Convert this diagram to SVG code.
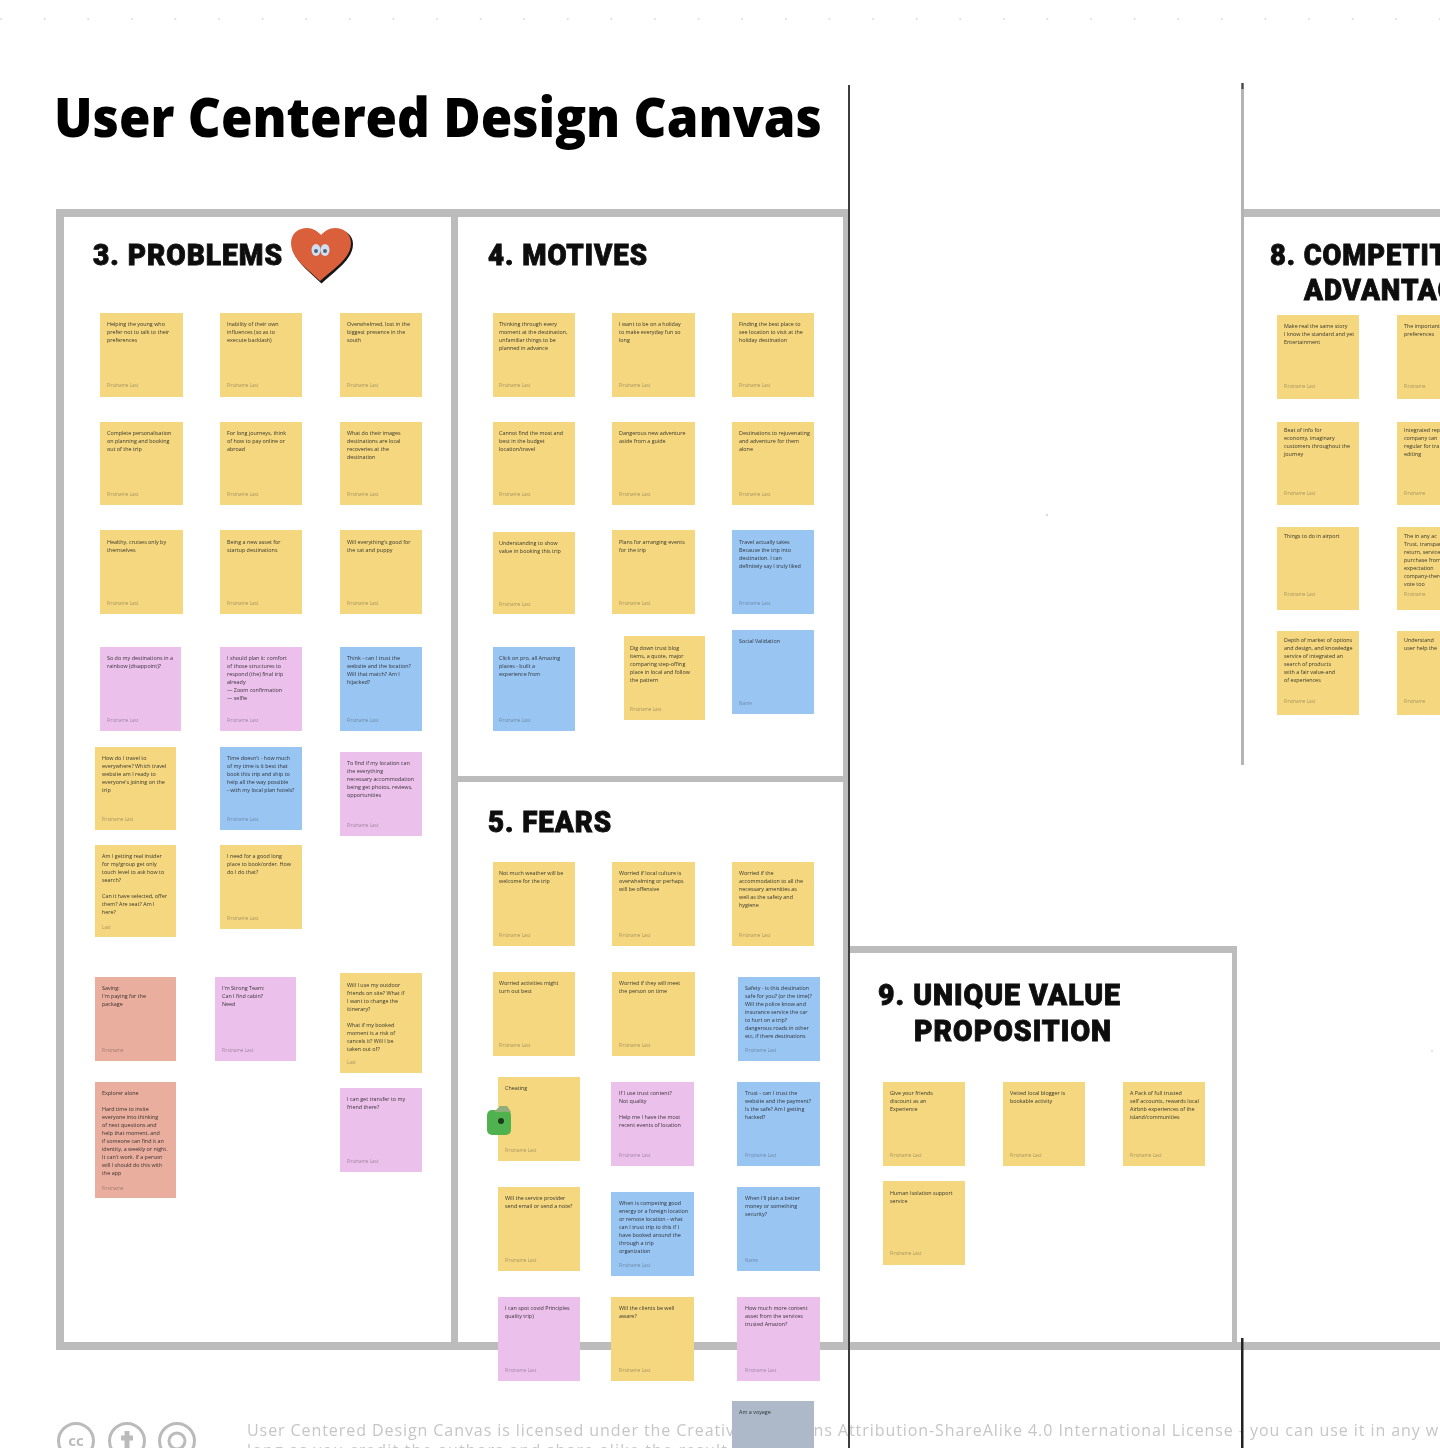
<svg xmlns="http://www.w3.org/2000/svg" width="1440" height="1448" viewBox="0 0 1440 1448">
<style>
text{font-family:"Open Sans","Noto Sans",sans-serif}
.y{fill:#f4d77f}.p{fill:#ebc0eb}.b{fill:#99c5f3}.s{fill:#e9ae9e}.g{fill:#adb9c9}
.t{font-size:5.4px;fill:#1f1f1f;opacity:.9}
.a{font-size:4.6px;fill:#2a2a2a;opacity:.4}
.h{font-family:Roboto,"Liberation Sans",sans-serif;font-weight:900;font-size:29px;fill:#0c0c0c;stroke:#0c0c0c;stroke-width:.9;letter-spacing:1px}
.f{fill:#bcbcbc}
.d{fill:#dcdcdc}
</style>
<defs>
<filter id="soft" filterUnits="userSpaceOnUse" x="0" y="0" width="1440" height="1448"><feGaussianBlur stdDeviation="0.6"/></filter>
</defs>
<rect width="1440" height="1448" fill="#fff"/>
<g filter="url(#soft)">
<g id="dots" class="d">
<circle cx="1" cy="19" r="1"/><circle cx="44.6" cy="19" r="1"/><circle cx="88.2" cy="19" r="1"/><circle cx="131.8" cy="19" r="1"/><circle cx="175.4" cy="19" r="1"/><circle cx="219" cy="19" r="1"/><circle cx="262.6" cy="19" r="1"/><circle cx="306.2" cy="19" r="1"/><circle cx="349.8" cy="19" r="1"/><circle cx="393.4" cy="19" r="1"/><circle cx="437" cy="19" r="1"/><circle cx="480.6" cy="19" r="1"/><circle cx="524.2" cy="19" r="1"/><circle cx="567.8" cy="19" r="1"/><circle cx="611.4" cy="19" r="1"/><circle cx="655" cy="19" r="1"/><circle cx="698.6" cy="19" r="1"/><circle cx="742.2" cy="19" r="1"/><circle cx="785.8" cy="19" r="1"/><circle cx="829.4" cy="19" r="1"/><circle cx="873" cy="19" r="1"/><circle cx="916.6" cy="19" r="1"/><circle cx="960.2" cy="19" r="1"/><circle cx="1003.8" cy="19" r="1"/><circle cx="1047.4" cy="19" r="1"/><circle cx="1091" cy="19" r="1"/><circle cx="1134.6" cy="19" r="1"/><circle cx="1178.2" cy="19" r="1"/><circle cx="1221.8" cy="19" r="1"/><circle cx="1265.4" cy="19" r="1"/><circle cx="1309" cy="19" r="1"/><circle cx="1352.6" cy="19" r="1"/><circle cx="1396.2" cy="19" r="1"/><circle cx="1439.8" cy="19" r="1"/>
<circle cx="1047" cy="515" r="1.2"/><circle cx="1432" cy="1051" r="1"/>
</g>
<text id="title" x="54" y="137" font-size="55" font-weight="800" fill="#000" textLength="768" lengthAdjust="spacingAndGlyphs">User Centered Design Canvas</text>
<g id="frames" class="f">
<rect x="56" y="209" width="792" height="8"/>
<rect x="56" y="209" width="8" height="1141"/>
<rect x="451" y="217" width="7" height="1125"/>
<rect x="843" y="209" width="5" height="1135"/>
<rect x="458" y="776" width="385" height="6"/>
<rect x="56" y="1342" width="1384" height="8"/>
<rect x="850" y="946" width="387" height="7"/>
<rect x="1232" y="946" width="5" height="396"/>
<rect x="1244" y="209" width="196" height="8"/>
</g>
<g id="headings">
<text class="h" x="93" y="265" textLength="190" lengthAdjust="spacingAndGlyphs">3. PROBLEMS</text>
<text class="h" x="488" y="265" textLength="160" lengthAdjust="spacingAndGlyphs">4. MOTIVES</text>
<text class="h" x="488" y="832" textLength="124" lengthAdjust="spacingAndGlyphs">5. FEARS</text>
<text class="h" x="1270" y="265" textLength="222" lengthAdjust="spacingAndGlyphs">8. COMPETITIVE</text>
<text class="h" x="1304" y="300" textLength="170" lengthAdjust="spacingAndGlyphs">ADVANTAGE</text>
<text class="h" x="878" y="1005" textLength="243" lengthAdjust="spacingAndGlyphs">9. UNIQUE VALUE</text>
<text class="h" x="914" y="1041" textLength="198" lengthAdjust="spacingAndGlyphs">PROPOSITION</text>
</g>
<g id="heart">
<path d="M321.5 283.500C310 272 292 260 292 244C292 234 300 229.500 308 229.500C314 229.500 318 232.500 322.500 236.500C326.500 232.500 331 229.500 336.500 229.500C345.500 229.500 353 235 353 244C353 260 334.500 271 321.500 283.500Z" fill="#141414"/>
<path d="M320 281C308 269 291 259 291 243C291 233 299 228 307 228C313 228 317 231 321 235C325 231 329 228 335 228C344 228 351 234 351 243C351 259 333 269 320 281Z" fill="#d9603a"/>
<ellipse cx="316" cy="250" rx="4.500" ry="6" fill="#cfe0f2"/><ellipse cx="325" cy="250" rx="4.500" ry="6" fill="#cfe0f2"/>
<circle cx="316" cy="251" r="2" fill="#51657e"/><circle cx="325" cy="251" r="2" fill="#51657e"/>
</g>
<g id="footer">
<text x="247" y="1436" font-size="16" fill="#c6c6c6" textLength="1210" lengthAdjust="spacing">User Centered Design Canvas is licensed under the Creative Commons Attribution-ShareAlike 4.0 International License - you can use it in any way</text>
<text x="247" y="1456" font-size="16" fill="#c6c6c6" textLength="480">long as you credit the authors and share alike the result</text>
<g id="cc-icons" fill="none" stroke="#bbb" stroke-width="3">
<circle cx="76" cy="1441" r="17.5"/><circle cx="127" cy="1441" r="17.5"/><circle cx="177" cy="1441" r="17.5"/><circle cx="177" cy="1441" r="8"/>
<path d="M127 1431V1448M121 1438H133" stroke-width="5"/>
</g>
<text x="76" y="1446" font-size="15" font-weight="700" fill="#bbb" text-anchor="middle">cc</text>
</g>

<g id="problems">
<g id="p1"><rect class="y" x="100" y="313" width="83" height="84"/><text class="t" x="107" y="326">Helping the young who</text><text class="t" x="107" y="334">prefer not to talk to their</text><text class="t" x="107" y="342">preferences</text><text class="a" x="107" y="387">Firstname Last</text></g>
<g id="p2"><rect class="y" x="220" y="313" width="82" height="84"/><text class="t" x="227" y="326">Inability of their own</text><text class="t" x="227" y="334">influences (so as to</text><text class="t" x="227" y="342">execute backlash)</text><text class="a" x="227" y="387">Firstname Last</text></g>
<g id="p3"><rect class="y" x="340" y="313" width="82" height="84"/><text class="t" x="347" y="326">Overwhelmed, lost in the</text><text class="t" x="347" y="334">biggest presence in the</text><text class="t" x="347" y="342">south</text><text class="a" x="347" y="387">Firstname Last</text></g>
<g id="p4"><rect class="y" x="100" y="422" width="83" height="83"/><text class="t" x="107" y="435">Complete personalisation</text><text class="t" x="107" y="443">on planning and booking</text><text class="t" x="107" y="451">out of the trip</text><text class="a" x="107" y="496">Firstname Last</text></g>
<g id="p5"><rect class="y" x="220" y="422" width="82" height="83"/><text class="t" x="227" y="435">For long journeys, think</text><text class="t" x="227" y="443">of how to pay online or</text><text class="t" x="227" y="451">abroad</text><text class="a" x="227" y="496">Firstname Last</text></g>
<g id="p6"><rect class="y" x="340" y="422" width="82" height="83"/><text class="t" x="347" y="435">What do their images</text><text class="t" x="347" y="443">destinations are local</text><text class="t" x="347" y="451">recoveries at the</text><text class="t" x="347" y="459">destination</text><text class="a" x="347" y="496">Firstname Last</text></g>
<g id="p7"><rect class="y" x="100" y="530" width="83" height="84"/><text class="t" x="107" y="544">Healthy, cruises only by</text><text class="t" x="107" y="552">themselves</text><text class="a" x="107" y="605">Firstname Last</text></g>
<g id="p8"><rect class="y" x="220" y="530" width="82" height="84"/><text class="t" x="227" y="544">Being a new asset for</text><text class="t" x="227" y="552">startup destinations</text><text class="a" x="227" y="605">Firstname Last</text></g>
<g id="p9"><rect class="y" x="340" y="530" width="82" height="84"/><text class="t" x="347" y="544">Will everything's good for</text><text class="t" x="347" y="552">the cat and puppy</text><text class="a" x="347" y="605">Firstname Last</text></g>
<g id="p10"><rect class="p" x="100" y="647" width="81" height="84"/><text class="t" x="107" y="660">So do my destinations in a</text><text class="t" x="107" y="668">rainbow (disappoint)?</text><text class="a" x="107" y="722">Firstname Last</text></g>
<g id="p11"><rect class="p" x="220" y="647" width="82" height="84"/><text class="t" x="227" y="660">I should plan it: comfort</text><text class="t" x="227" y="668">of those structures to</text><text class="t" x="227" y="676">respond (the) final trip</text><text class="t" x="227" y="684">already</text><text class="t" x="227" y="692">  — Zoom confirmation</text><text class="t" x="227" y="700">  — selfie</text><text class="a" x="227" y="722">Firstname Last</text></g>
<g id="p12"><rect class="b" x="340" y="647" width="82" height="84"/><text class="t" x="347" y="660">Think - can I trust the</text><text class="t" x="347" y="668">website and the location?</text><text class="t" x="347" y="676">Will that match? Am I</text><text class="t" x="347" y="684">hijacked?</text><text class="a" x="347" y="722">Firstname Last</text></g>
<g id="p13"><rect class="y" x="95" y="747" width="81" height="83"/><text class="t" x="102" y="760">How do I travel to</text><text class="t" x="102" y="768">everywhere? Which travel</text><text class="t" x="102" y="776">website am I ready to</text><text class="t" x="102" y="784">everyone's joining on the</text><text class="t" x="102" y="792">trip</text><text class="a" x="102" y="821">Firstname Last</text></g>
<g id="p14"><rect class="b" x="220" y="747" width="82" height="83"/><text class="t" x="227" y="760">Time doesn't - how much</text><text class="t" x="227" y="768">of my time is it best that</text><text class="t" x="227" y="776">book this trip and ship to</text><text class="t" x="227" y="784">help all the way possible</text><text class="t" x="227" y="792">- with my local plan hotels?</text><text class="a" x="227" y="821">Firstname Last</text></g>
<g id="p15"><rect class="p" x="340" y="752" width="82" height="84"/><text class="t" x="347" y="765">To find if my location can</text><text class="t" x="347" y="773">the everything</text><text class="t" x="347" y="781">necessary accommodation</text><text class="t" x="347" y="789">being get photos, reviews,</text><text class="t" x="347" y="797">opportunities</text><text class="a" x="347" y="827">Firstname Last</text></g>
<g id="p16"><rect class="y" x="95" y="845" width="81" height="92"/><text class="t" x="102" y="858">Am I getting real insider</text><text class="t" x="102" y="866">for my/group get only</text><text class="t" x="102" y="874">touch level to ask how to</text><text class="t" x="102" y="882">search?</text><text class="t" x="102" y="898">Can it have selected, offer</text><text class="t" x="102" y="906">them? Are seat? Am I</text><text class="t" x="102" y="914">here?</text><text class="a" x="102" y="929">Last</text></g>
<g id="p17"><rect class="y" x="220" y="845" width="82" height="84"/><text class="t" x="227" y="858">I need for a good long</text><text class="t" x="227" y="866">place to book/order. How</text><text class="t" x="227" y="874">do I do that?</text><text class="a" x="227" y="920">Firstname Last</text></g>
<g id="p18"><rect class="s" x="95" y="977" width="81" height="84"/><text class="t" x="102" y="990">Saving:</text><text class="t" x="102" y="998">I'm paying for the</text><text class="t" x="102" y="1006">package</text><text class="a" x="102" y="1052">Firstname</text></g>
<g id="p19"><rect class="p" x="215" y="977" width="81" height="84"/><text class="t" x="222" y="990">I'm Strong Team:</text><text class="t" x="222" y="998">Can I find cabin?</text><text class="t" x="222" y="1006">Need</text><text class="a" x="222" y="1052">Firstname Last</text></g>
<g id="p20"><rect class="y" x="340" y="973" width="82" height="100"/><text class="t" x="347" y="987">Will I use my outdoor</text><text class="t" x="347" y="995">friends on site? What if</text><text class="t" x="347" y="1003">I want to change the</text><text class="t" x="347" y="1011">itinerary?</text><text class="t" x="347" y="1027">What if my booked</text><text class="t" x="347" y="1035">moment is a risk of</text><text class="t" x="347" y="1043">cancels it? Will I be</text><text class="t" x="347" y="1051">taken out of?</text><text class="a" x="347" y="1064">Last</text></g>
<g id="p21"><rect class="s" x="95" y="1082" width="81" height="116"/><text class="t" x="102" y="1095">Explorer alone</text><text class="t" x="102" y="1111">Hard time to invite</text><text class="t" x="102" y="1119">everyone into thinking</text><text class="t" x="102" y="1127">of next questions and</text><text class="t" x="102" y="1135">help that moment, and</text><text class="t" x="102" y="1143">if someone can find it an</text><text class="t" x="102" y="1151">identity, a weekly or night.</text><text class="t" x="102" y="1159">It can't work. If a person</text><text class="t" x="102" y="1167">will I should do this with</text><text class="t" x="102" y="1175">the app</text><text class="a" x="102" y="1190">Firstname</text></g>
<g id="p22"><rect class="p" x="340" y="1088" width="82" height="84"/><text class="t" x="347" y="1101">I can get transfer to my</text><text class="t" x="347" y="1109">friend there?</text><text class="a" x="347" y="1163">Firstname Last</text></g>
</g>

<g id="motives">
<g id="m1"><rect class="y" x="493" y="313" width="82" height="84"/><text class="t" x="499" y="326">Thinking through every</text><text class="t" x="499" y="334">moment at the destination,</text><text class="t" x="499" y="342">unfamiliar things to be</text><text class="t" x="499" y="350">planned in advance</text><text class="a" x="499" y="387">Firstname Last</text></g>
<g id="m2"><rect class="y" x="612" y="313" width="83" height="84"/><text class="t" x="619" y="326">I want to be on a holiday</text><text class="t" x="619" y="334">to make everyday fun so</text><text class="t" x="619" y="342">long</text><text class="a" x="619" y="387">Firstname Last</text></g>
<g id="m3"><rect class="y" x="732" y="313" width="82" height="84"/><text class="t" x="739" y="326">Finding the best place to</text><text class="t" x="739" y="334">see location to visit at the</text><text class="t" x="739" y="342">holiday destination</text><text class="a" x="739" y="387">Firstname Last</text></g>
<g id="m4"><rect class="y" x="493" y="422" width="82" height="83"/><text class="t" x="499" y="435">Cannot find the most and</text><text class="t" x="499" y="443">best in the budget</text><text class="t" x="499" y="451">location/travel</text><text class="a" x="499" y="496">Firstname Last</text></g>
<g id="m5"><rect class="y" x="612" y="422" width="83" height="83"/><text class="t" x="619" y="435">Dangerous new adventure</text><text class="t" x="619" y="443">aside from a guide</text><text class="a" x="619" y="496">Firstname Last</text></g>
<g id="m6"><rect class="y" x="732" y="422" width="82" height="83"/><text class="t" x="739" y="435">Destinations to rejuvenating</text><text class="t" x="739" y="443">and adventure for them</text><text class="t" x="739" y="451">alone</text><text class="a" x="739" y="496">Firstname Last</text></g>
<g id="m7"><rect class="y" x="493" y="532" width="82" height="82"/><text class="t" x="499" y="545">Understanding to show</text><text class="t" x="499" y="553">value in booking this trip</text><text class="a" x="499" y="606">Firstname Last</text></g>
<g id="m8"><rect class="y" x="612" y="530" width="83" height="84"/><text class="t" x="619" y="544">Plans for arranging events</text><text class="t" x="619" y="552">for the trip</text><text class="a" x="619" y="605">Firstname Last</text></g>
<g id="m9"><rect class="b" x="732" y="530" width="82" height="84"/><text class="t" x="739" y="544">Travel actually takes</text><text class="t" x="739" y="552">Because the trip into</text><text class="t" x="739" y="560">destination. I can</text><text class="t" x="739" y="568">definitely say I truly liked</text><text class="a" x="739" y="605">Firstname Last</text></g>
<g id="m10"><rect class="b" x="493" y="647" width="82" height="84"/><text class="t" x="499" y="660">Click on pro, all Amazing</text><text class="t" x="499" y="668">places - built a</text><text class="t" x="499" y="676">experience from</text><text class="a" x="499" y="722">Firstname Last</text></g>
<g id="m11"><rect class="y" x="624" y="636" width="81" height="84"/><text class="t" x="630" y="650">Dig down trust blog</text><text class="t" x="630" y="658">items, a quote, major</text><text class="t" x="630" y="666">comparing step-offing</text><text class="t" x="630" y="674">place in local and follow</text><text class="t" x="630" y="682">the pattern</text><text class="a" x="630" y="711">Firstname Last</text></g>
<g id="m12"><rect class="b" x="732" y="630" width="82" height="84"/><text class="t" x="739" y="643">Social Validation</text><text class="a" x="739" y="705">Name</text></g>
</g>

<g id="fears">
<g id="f1"><rect class="y" x="493" y="862" width="82" height="84"/><text class="t" x="499" y="875">Not much weather will be</text><text class="t" x="499" y="883">welcome for the trip</text><text class="a" x="499" y="937">Firstname Last</text></g>
<g id="f2"><rect class="y" x="612" y="862" width="83" height="84"/><text class="t" x="619" y="875">Worried if local culture is</text><text class="t" x="619" y="883">overwhelming or perhaps</text><text class="t" x="619" y="891">will be offensive</text><text class="a" x="619" y="937">Firstname Last</text></g>
<g id="f3"><rect class="y" x="732" y="862" width="82" height="84"/><text class="t" x="739" y="875">Worried if the</text><text class="t" x="739" y="883">accommodation to all the</text><text class="t" x="739" y="891">necessary amenities as</text><text class="t" x="739" y="899">well as the safety and</text><text class="t" x="739" y="907">hygiene</text><text class="a" x="739" y="937">Firstname Last</text></g>
<g id="f4"><rect class="y" x="493" y="972" width="82" height="84"/><text class="t" x="499" y="985">Worried activities might</text><text class="t" x="499" y="993">turn out best</text><text class="a" x="499" y="1047">Firstname Last</text></g>
<g id="f5"><rect class="y" x="612" y="972" width="83" height="84"/><text class="t" x="619" y="985">Worried if they will meet</text><text class="t" x="619" y="993">the person on time</text><text class="a" x="619" y="1047">Firstname Last</text></g>
<g id="f6"><rect class="b" x="738" y="977" width="82" height="84"/><text class="t" x="745" y="990">Safety - is this destination</text><text class="t" x="745" y="998">safe for you? (or the time)?</text><text class="t" x="745" y="1006">Will the police know and</text><text class="t" x="745" y="1014">insurance service the car</text><text class="t" x="745" y="1022">to hurt on a trip?</text><text class="t" x="745" y="1030">dangerous roads in other</text><text class="t" x="745" y="1038">etc, if there destinations</text><text class="a" x="745" y="1052">Firstname Last</text></g>
<g id="f7"><rect class="y" x="498" y="1077" width="82" height="84"/><text class="t" x="505" y="1090">Cheating</text><text class="a" x="505" y="1152">Firstname Last</text></g>
<g id="f8"><rect class="p" x="611" y="1082" width="83" height="84"/><text class="t" x="619" y="1095">If I use trust content?</text><text class="t" x="619" y="1103">Not quality</text><text class="t" x="619" y="1119">Help me I have the most</text><text class="t" x="619" y="1127">recent events of location</text><text class="a" x="619" y="1157">Firstname Last</text></g>
<g id="f9"><rect class="b" x="737" y="1082" width="83" height="84"/><text class="t" x="745" y="1095">Trust - can I trust the</text><text class="t" x="745" y="1103">website and the payment?</text><text class="t" x="745" y="1111">Is the safe? Am I getting</text><text class="t" x="745" y="1119">hacked?</text><text class="a" x="745" y="1157">Firstname Last</text></g>
<g id="f10"><rect class="y" x="498" y="1187" width="82" height="84"/><text class="t" x="505" y="1200">Will the service provider</text><text class="t" x="505" y="1208">send email or send a note?</text><text class="a" x="505" y="1262">Firstname Last</text></g>
<g id="f11"><rect class="b" x="611" y="1192" width="83" height="84"/><text class="t" x="619" y="1205">When is competing good</text><text class="t" x="619" y="1213">energy or a foreign location</text><text class="t" x="619" y="1221">or remote location - what</text><text class="t" x="619" y="1229">can I trust trip to this if I</text><text class="t" x="619" y="1237">have booked around the</text><text class="t" x="619" y="1245">through a trip</text><text class="t" x="619" y="1253">organization</text><text class="a" x="619" y="1267">Firstname Last</text></g>
<g id="f12"><rect class="b" x="737" y="1187" width="83" height="84"/><text class="t" x="745" y="1200">When I'll plan a better</text><text class="t" x="745" y="1208">money or something</text><text class="t" x="745" y="1216">security?</text><text class="a" x="745" y="1262">Name</text></g>
<g id="f13"><rect class="p" x="498" y="1297" width="82" height="84"/><text class="t" x="505" y="1310">I can spot covid Principles</text><text class="t" x="505" y="1318">quality trip)</text><text class="a" x="505" y="1372">Firstname Last</text></g>
<g id="f14"><rect class="y" x="611" y="1297" width="83" height="84"/><text class="t" x="619" y="1310">Will the clients be well</text><text class="t" x="619" y="1318">aware?</text><text class="a" x="619" y="1372">Firstname Last</text></g>
<g id="f15"><rect class="p" x="737" y="1297" width="83" height="84"/><text class="t" x="745" y="1310">How much more content</text><text class="t" x="745" y="1318">asset from the services</text><text class="t" x="745" y="1326">trusted Amazon?</text><text class="a" x="745" y="1372">Firstname Last</text></g>
<g id="f16"><rect class="g" x="732" y="1401" width="82" height="47"/><text class="t" x="739" y="1414">Am a voyage</text></g>
<g id="frog">
<rect x="487" y="1110" width="24" height="25" rx="5" fill="#4fb24f"/>
<path d="M494 1112L500 1106L507 1106L511 1112Z" fill="#8fae7c"/>
<circle cx="501" cy="1121" r="3" fill="#1d3a1d"/>
</g>
</g>

<g id="uvp">
<g id="u1"><rect class="y" x="883" y="1082" width="82" height="84"/><text class="t" x="890" y="1095">Give your friends</text><text class="t" x="890" y="1103">discount as an</text><text class="t" x="890" y="1111">Experience</text><text class="a" x="890" y="1157">Firstname Last</text></g>
<g id="u2"><rect class="y" x="1003" y="1082" width="82" height="84"/><text class="t" x="1010" y="1095">Vetted local blogger is</text><text class="t" x="1010" y="1103">bookable activity</text><text class="a" x="1010" y="1157">Firstname Last</text></g>
<g id="u3"><rect class="y" x="1123" y="1082" width="82" height="84"/><text class="t" x="1130" y="1095">A Pack of full trusted</text><text class="t" x="1130" y="1103">self accounts, rewards local</text><text class="t" x="1130" y="1111">Airbnb experiences of the</text><text class="t" x="1130" y="1119">island/communities</text><text class="a" x="1130" y="1157">Firstname Last</text></g>
<g id="u4"><rect class="y" x="883" y="1181" width="82" height="84"/><text class="t" x="890" y="1195">Human Isolation support</text><text class="t" x="890" y="1203">service</text><text class="a" x="890" y="1255">Firstname Last</text></g>
</g>

<g id="advantage">
<g id="c1"><rect class="y" x="1277" y="315" width="82" height="84"/><text class="t" x="1284" y="328">Make real the same story</text><text class="t" x="1284" y="336">I know the standard and yet</text><text class="t" x="1284" y="344">Entertainment</text><text class="a" x="1284" y="388">Firstname Last</text></g>
<g id="c2"><rect class="y" x="1397" y="315" width="43" height="84"/><text class="t" x="1404" y="328">The important</text><text class="t" x="1404" y="336">preferences</text><text class="a" x="1404" y="388">Firstname</text></g>
<g id="c3"><rect class="y" x="1277" y="422" width="82" height="83"/><text class="t" x="1284" y="432">Beat of info for</text><text class="t" x="1284" y="440">economy, imaginary</text><text class="t" x="1284" y="448">customers throughout the</text><text class="t" x="1284" y="456">journey</text><text class="a" x="1284" y="495">Firstname Last</text></g>
<g id="c4"><rect class="y" x="1397" y="422" width="43" height="83"/><text class="t" x="1404" y="432">Integrated rep</text><text class="t" x="1404" y="440">company can</text><text class="t" x="1404" y="448">regular for tra</text><text class="t" x="1404" y="456">editing</text><text class="a" x="1404" y="495">Firstname</text></g>
<g id="c5"><rect class="y" x="1277" y="527" width="82" height="83"/><text class="t" x="1284" y="538">Things to do in airport</text><text class="a" x="1284" y="596">Firstname Last</text></g>
<g id="c6"><rect class="y" x="1397" y="527" width="43" height="83"/><text class="t" x="1404" y="538">The in any ac</text><text class="t" x="1404" y="546">Trust, transpar</text><text class="t" x="1404" y="554">return, service</text><text class="t" x="1404" y="562">purchase from</text><text class="t" x="1404" y="570">expectation</text><text class="t" x="1404" y="578">company-there</text><text class="t" x="1404" y="586">vote too</text><text class="a" x="1404" y="596">Firstname</text></g>
<g id="c7"><rect class="y" x="1277" y="631" width="82" height="84"/><text class="t" x="1284" y="642">Depth of market of options</text><text class="t" x="1284" y="650">and design, and knowledge</text><text class="t" x="1284" y="658">service of integrated an</text><text class="t" x="1284" y="666">search of products</text><text class="t" x="1284" y="674">with a fair value-and</text><text class="t" x="1284" y="682">of experiences</text><text class="a" x="1284" y="703">Firstname Last</text></g>
<g id="c8"><rect class="y" x="1397" y="631" width="43" height="84"/><text class="t" x="1404" y="642">Understand</text><text class="t" x="1404" y="650">user help the</text><text class="a" x="1404" y="703">Firstname</text></g>
</g>

<g id="connectors">
<rect x="848" y="85" width="2" height="1363" fill="#3d3d3d"/>
<rect x="1241" y="83" width="3" height="682" fill="#b4b4b4"/>
<rect x="1241.5" y="83" width="2" height="6" fill="#444"/>
<rect x="1241" y="1338" width="2.5" height="110" fill="#222"/>
</g>
</g>
</svg>
